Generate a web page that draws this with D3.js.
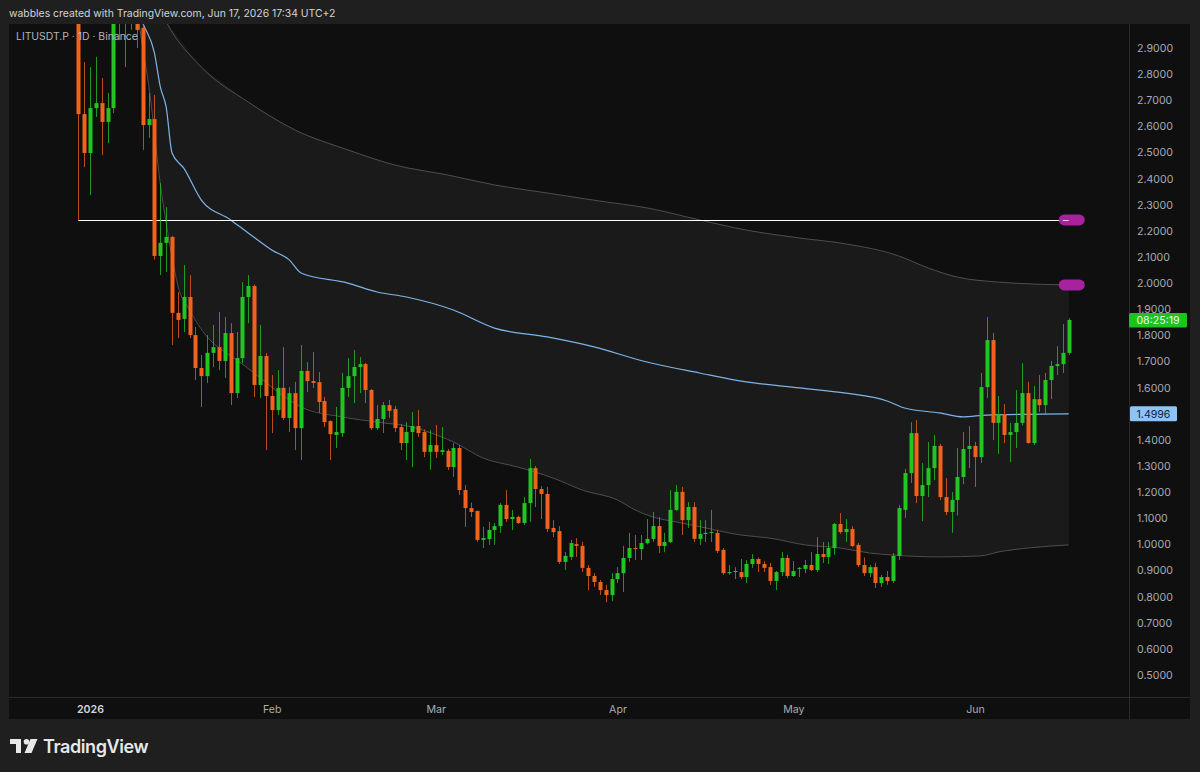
<!DOCTYPE html>
<html>
<head>
<meta charset="utf-8">
<script src="https://cdn.jsdelivr.net/npm/d3@7"></script>
<style>
html, body { margin: 0; padding: 0; background: #1f1f1f; }
svg { display: block; font-family: Inter, "Noto Sans", sans-serif; }
</style>
</head>
<body>
<svg id="chart" width="1200" height="772"></svg>
<script>
// LITUSDT.P daily candles, first candle on Dec 30 2025
var firstDay = "2025-12-30";

var opens = [
  3.20, 2.647,
  2.498, 2.670, 2.689, 2.617, 2.670, 3.02, 3.15, 3.25, 3.08, 2.977, 2.605, 2.628, 2.104, 2.154, 2.177, 1.886, 1.863, 1.947, 1.801, 1.675, 1.644, 1.733, 1.755, 1.702, 1.809, 1.579, 1.713, 1.947, 1.989, 1.610, 1.721,
  1.568, 1.514, 1.599, 1.484, 1.579, 1.445, 1.664, 1.625, 1.621, 1.549, 1.472, 1.419, 1.426, 1.599, 1.644, 1.679, 1.690, 1.591, 1.445, 1.480, 1.533, 1.518, 1.449, 1.388, 1.430, 1.453, 1.430, 1.354,
  1.380, 1.354, 1.358, 1.296, 1.369, 1.208, 1.139, 1.128, 1.017, 1.020, 1.055, 1.070, 1.151, 1.097, 1.105, 1.082, 1.158, 1.292, 1.212, 1.193, 1.063, 1.051, 0.933, 0.952, 1.001, 0.994, 0.910, 0.879, 0.856, 0.825, 0.806,
  0.867, 0.890, 0.948, 0.986, 0.982, 1.005, 1.021, 1.070, 0.994, 1.009, 1.132, 1.201, 1.093, 1.143, 1.021, 1.040, 1.044, 1.044, 0.979, 0.890, 0.898, 0.894, 0.875, 0.925, 0.944, 0.925, 0.913, 0.860, 0.894, 0.948,
  0.879, 0.906, 0.906, 0.921, 0.902, 0.963, 0.952, 0.986, 1.078, 1.047, 1.059, 0.998, 0.921, 0.890, 0.913, 0.852, 0.875, 0.860, 0.956, 1.132, 1.273, 1.426, 1.185, 1.227, 1.292, 1.377, 1.181, 1.124, 1.170, 1.258, 1.365,
  1.377, 1.334, 1.602, 1.782, 1.465, 1.499, 1.419, 1.430, 1.465, 1.579, 1.388, 1.556, 1.533, 1.629, 1.683, 1.690, 1.733
];
var highs = [
  3.40, 2.846,
  2.827, 2.866, 2.785, 2.728, 3.10, 3.30, 3.40, 3.35, 3.12, 3.00, 2.728, 2.720, 2.383, 2.291, 2.180, 1.966, 2.069, 2.031, 1.832, 1.725, 1.801, 1.840, 1.889, 1.870, 1.847, 1.813, 2.004, 2.031, 1.995, 1.840, 1.733,
  1.648, 1.667, 1.755, 1.602, 1.622, 1.763, 1.698, 1.736, 1.660, 1.564, 1.475, 1.526, 1.656, 1.713, 1.744, 1.717, 1.695, 1.595, 1.533, 1.545, 1.553, 1.530, 1.460, 1.468, 1.507, 1.514, 1.440, 1.438,
  1.457, 1.449, 1.365, 1.388, 1.380, 1.227, 1.160, 1.130, 1.067, 1.086, 1.082, 1.158, 1.208, 1.132, 1.110, 1.181, 1.327, 1.300, 1.223, 1.220, 1.093, 1.070, 0.971, 1.017, 1.024, 1.010, 0.921, 0.890, 0.864, 0.845, 0.890,
  0.913, 0.994, 1.044, 1.036, 1.036, 1.097, 1.124, 1.105, 1.044, 1.208, 1.227, 1.220, 1.162, 1.162, 1.093, 1.093, 1.132, 1.055, 0.986, 0.921, 0.913, 0.944, 0.940, 0.963, 0.950, 0.936, 0.929, 0.898, 0.971, 0.960,
  0.936, 0.913, 0.940, 0.971, 1.028, 1.009, 1.009, 1.082, 1.120, 1.097, 1.070, 1.005, 0.950, 0.921, 0.929, 0.883, 0.898, 0.967, 1.150, 1.289, 1.468, 1.476, 1.311, 1.392, 1.419, 1.385, 1.254, 1.200, 1.369, 1.430, 1.453,
  1.392, 1.656, 1.870, 1.809, 1.568, 1.537, 1.465, 1.591, 1.694, 1.622, 1.606, 1.648, 1.656, 1.702, 1.759, 1.844, 1.866
];
var lows = [
  2.242, 2.444,
  2.337, 2.636, 2.490, 2.536, 2.651, 2.93, 2.827, 2.97, 2.90, 2.510, 2.556, 2.090, 2.031, 2.043, 1.763, 1.790, 1.813, 1.790, 1.629, 1.526, 1.618, 1.679, 1.667, 1.637, 1.533, 1.560, 1.694, 1.847, 1.564, 1.560, 1.361,
  1.426, 1.495, 1.476, 1.430, 1.361, 1.323, 1.583, 1.599, 1.503, 1.449, 1.323, 1.369, 1.411, 1.564, 1.541, 1.579, 1.541, 1.438, 1.438, 1.426, 1.484, 1.430, 1.361, 1.323, 1.296, 1.411, 1.334, 1.285,
  1.331, 1.342, 1.285, 1.258, 1.189, 1.067, 1.105, 1.010, 0.986, 0.998, 0.998, 1.044, 1.086, 1.055, 1.078, 1.074, 1.086, 1.143, 1.097, 1.047, 1.028, 0.925, 0.902, 0.940, 0.952, 0.894, 0.825, 0.837, 0.806, 0.779, 0.783,
  0.852, 0.818, 0.933, 0.940, 0.940, 1.000, 1.010, 0.967, 0.970, 1.005, 1.128, 1.036, 1.063, 1.009, 0.998, 1.009, 1.009, 0.967, 0.883, 0.883, 0.867, 0.867, 0.852, 0.910, 0.894, 0.894, 0.845, 0.825, 0.879, 0.871,
  0.875, 0.875, 0.890, 0.898, 0.894, 0.929, 0.925, 0.960, 1.040, 1.009, 0.990, 0.913, 0.879, 0.875, 0.833, 0.837, 0.845, 0.852, 0.940, 1.101, 1.235, 1.158, 1.089, 1.181, 1.246, 1.170, 1.112, 1.044, 1.110, 1.230, 1.292,
  1.220, 1.311, 1.560, 1.400, 1.346, 1.388, 1.315, 1.369, 1.455, 1.385, 1.380, 1.507, 1.495, 1.556, 1.648, 1.656, 1.725
];
var closes = [
  2.647, 2.498,
  2.670, 2.689, 2.617, 2.670, 3.02, 3.15, 3.25, 3.08, 2.969, 2.605, 2.628, 2.104, 2.154, 2.177, 1.886, 1.859, 1.947, 1.801, 1.675, 1.644, 1.733, 1.755, 1.702, 1.809, 1.579, 1.713, 1.947, 1.989, 1.610, 1.721, 1.568,
  1.514, 1.599, 1.484, 1.579, 1.445, 1.664, 1.625, 1.618, 1.545, 1.468, 1.422, 1.430, 1.599, 1.644, 1.679, 1.690, 1.591, 1.445, 1.480, 1.533, 1.511, 1.445, 1.388, 1.430, 1.453, 1.426, 1.354, 1.380,
  1.354, 1.361, 1.296, 1.369, 1.208, 1.139, 1.124, 1.017, 1.024, 1.055, 1.070, 1.151, 1.097, 1.105, 1.082, 1.158, 1.292, 1.212, 1.193, 1.059, 1.047, 0.933, 0.956, 1.005, 0.994, 0.910, 0.879, 0.856, 0.825, 0.806, 0.867,
  0.890, 0.948, 0.986, 0.982, 1.005, 1.021, 1.070, 0.994, 1.009, 1.132, 1.201, 1.093, 1.143, 1.021, 1.040, 1.044, 1.048, 0.975, 0.890, 0.894, 0.894, 0.875, 0.925, 0.944, 0.925, 0.910, 0.860, 0.894, 0.948, 0.879,
  0.898, 0.910, 0.921, 0.902, 0.963, 0.952, 0.986, 1.078, 1.047, 1.059, 0.994, 0.921, 0.890, 0.913, 0.852, 0.875, 0.860, 0.956, 1.139, 1.273, 1.426, 1.185, 1.227, 1.292, 1.377, 1.181, 1.124, 1.170, 1.258, 1.365, 1.377,
  1.334, 1.602, 1.782, 1.465, 1.499, 1.419, 1.430, 1.465, 1.579, 1.388, 1.556, 1.533, 1.629, 1.683, 1.690, 1.733, 1.859
];

// envelope bands (read at sample dates)
var upperDates = ["2026-01-08", "2026-01-11", "2026-01-14", "2026-01-20", "2026-01-28", "2026-02-05", "2026-02-14", "2026-02-22", "2026-03-03", "2026-03-11", "2026-03-20", "2026-03-29", "2026-04-06", "2026-04-15", "2026-04-23", "2026-05-02", "2026-05-10", "2026-05-19", "2026-05-24", "2026-05-29", "2026-06-05", "2026-06-17"];
var upperValues = [3.35, 3.15, 3.00, 2.827, 2.693, 2.586, 2.510, 2.452, 2.414, 2.376, 2.345, 2.314, 2.288, 2.242, 2.203, 2.173, 2.150, 2.104, 2.058, 2.023, 2.004, 1.993];

var midDates = ["2026-01-07", "2026-01-10", "2026-01-12", "2026-01-13", "2026-01-14", "2026-01-15", "2026-01-17", "2026-01-20", "2026-01-25", "2026-01-28", "2026-02-01", "2026-02-04", "2026-02-06", "2026-02-14", "2026-02-19", "2026-02-24", "2026-03-04", "2026-03-11", "2026-03-20", "2026-03-28", "2026-04-06", "2026-04-15", "2026-04-23", "2026-05-02", "2026-05-10", "2026-05-17", "2026-05-20", "2026-05-26", "2026-05-30", "2026-06-03", "2026-06-17"];
var midValues = [3.20, 2.996, 2.88, 2.751, 2.674, 2.498, 2.44, 2.318, 2.242, 2.192, 2.127, 2.089, 2.039, 2.000, 1.966, 1.947, 1.897, 1.828, 1.794, 1.756, 1.698, 1.656, 1.622, 1.599, 1.579, 1.549, 1.522, 1.503, 1.488, 1.495, 1.4996];

var lowerDates = ["2026-01-09", "2026-01-10", "2026-01-11", "2026-01-13", "2026-01-15", "2026-01-16", "2026-01-18", "2026-01-21", "2026-01-23", "2026-01-26", "2026-01-29", "2026-02-01", "2026-02-06", "2026-02-13", "2026-02-19", "2026-02-25", "2026-03-02", "2026-03-04", "2026-03-09", "2026-03-15", "2026-03-21", "2026-03-26", "2026-04-01", "2026-04-04", "2026-04-07", "2026-04-11", "2026-04-16", "2026-04-22", "2026-04-27", "2026-05-03", "2026-05-09", "2026-05-14", "2026-05-18", "2026-05-26", "2026-06-02", "2026-06-05", "2026-06-10", "2026-06-17"];
var lowerValues = [3.05, 2.90, 2.76, 2.38, 2.10, 1.99, 1.897, 1.794, 1.752, 1.706, 1.656, 1.602, 1.526, 1.488, 1.468, 1.449, 1.411, 1.392, 1.331, 1.296, 1.254, 1.208, 1.170, 1.132, 1.105, 1.086, 1.063, 1.036, 1.024, 0.998, 0.986, 0.967, 0.959, 0.952, 0.956, 0.971, 0.986, 0.998];

var lineLevel = 2.242;
var alertLevels = [2.242, 1.993];
var priceTicks = [0.5, 0.6, 0.7, 0.8, 0.9, 1.0, 1.1, 1.2, 1.3, 1.4, 1.5, 1.6, 1.7, 1.8, 1.9, 2.0, 2.1, 2.2, 2.3, 2.4, 2.5, 2.6, 2.7, 2.8, 2.9];
var timeTicks = ["2026-01-01", "2026-02-01", "2026-03-01", "2026-04-01", "2026-05-01", "2026-06-01"];
var timeTickLabels = ["2026", "Feb", "Mar", "Apr", "May", "Jun"];
var countdown = "08:25:19";

var parse = d3.utcParse("%Y-%m-%d");
var start = parse(firstDay);
var candles = opens.map((o, i) => ({
  date: d3.utcDay.offset(start, i), o: o, h: highs[i], l: lows[i], c: closes[i]
}));
var pts = (ds, vs) => ds.map((d, i) => ({ date: parse(d), v: vs[i] }));
var upper = pts(upperDates, upperValues),
    mid = pts(midDates, midValues),
    lower = pts(lowerDates, lowerValues);

var panel = {left: 9, right: 1190, top: 24, bottom: 719},
    plotRight = 1129, plotBottom = 697;

var x = d3.scaleUtc()
    .domain([parse("2026-01-01"), parse("2026-06-01")])
    .range([90, 975]);
var y = d3.scaleLinear()
    .domain([0.5, 2.9])
    .range([675, 48]);

var upColor = "#23c523", downColor = "#f2621c";

var svg = d3.select("#chart");

// header
svg.append("text")
    .attr("x", 9).attr("y", 17)
    .attr("fill", "#d1d4dc").attr("font-size", 10.4)
    .text("wabbles created with TradingView.com, Jun 17, 2026 17:34 UTC+2");

svg.append("rect")
    .attr("x", panel.left).attr("y", panel.top)
    .attr("width", panel.right - panel.left).attr("height", panel.bottom - panel.top)
    .attr("fill", "#0f0f0f");

svg.append("clipPath").attr("id", "plot")
  .append("rect")
    .attr("x", panel.left).attr("y", panel.top)
    .attr("width", plotRight - panel.left).attr("height", plotBottom - panel.top);

var plot = svg.append("g").attr("clip-path", "url(#plot)");

// band fill
var bandPoly = upper.concat(lower.slice().reverse());
plot.append("path")
    .attr("d", d3.line().x(d => x(d.date)).y(d => y(d.v)).curve(d3.curveLinearClosed)(bandPoly))
    .attr("fill", "#1a1a1a");

var bandLine = d3.line().x(d => x(d.date)).y(d => y(d.v)).curve(d3.curveMonotoneX);
plot.append("path").attr("d", bandLine(upper))
    .attr("fill", "none").attr("stroke", "#4e4e4e").attr("stroke-width", 1);
plot.append("path").attr("d", bandLine(lower))
    .attr("fill", "none").attr("stroke", "#4e4e4e").attr("stroke-width", 1);
plot.append("path").attr("d", bandLine(mid))
    .attr("fill", "none").attr("stroke", "#7fb3e8").attr("stroke-width", 1.2);

// horizontal line at the first candle low
plot.append("line")
    .attr("x1", x(candles[0].date)).attr("x2", x(candles[candles.length - 1].date))
    .attr("y1", Math.round(y(lineLevel)) + 0.5).attr("y2", Math.round(y(lineLevel)) + 0.5)
    .attr("stroke", "#ffffff").attr("stroke-width", 1);

// candles
var cg = plot.selectAll(".candle").data(candles).enter().append("g").attr("class", "candle");
cg.append("line")
    .attr("x1", d => Math.round(x(d.date)) + 0.5).attr("x2", d => Math.round(x(d.date)) + 0.5)
    .attr("y1", d => y(d.h)).attr("y2", d => y(d.l))
    .attr("stroke", d => d.c >= d.o ? upColor : downColor)
    .attr("stroke-opacity", 0.75).attr("stroke-width", 1);
cg.append("rect")
    .attr("x", d => Math.round(x(d.date)) - 1.5)
    .attr("width", 4)
    .attr("y", d => y(Math.max(d.o, d.c)))
    .attr("height", d => Math.max(1, Math.abs(y(d.o) - y(d.c))))
    .attr("fill", d => d.c >= d.o ? upColor : downColor);

// alert markers
var lastX = x(candles[candles.length - 1].date);
svg.selectAll(".alert").data(alertLevels).enter().append("rect")
    .attr("class", "alert")
    .attr("x", lastX - 10).attr("width", 26)
    .attr("y", d => y(d) - 5.5).attr("height", 11)
    .attr("rx", 5.5)
    .attr("fill", "#a8229f");
svg.append("line")
    .attr("x1", lastX - 6).attr("x2", lastX)
    .attr("y1", Math.round(y(lineLevel)) + 0.5).attr("y2", Math.round(y(lineLevel)) + 0.5)
    .attr("stroke", "#e9c6e6").attr("stroke-width", 1);

// legend
svg.append("text")
    .attr("x", 16).attr("y", 40)
    .attr("fill", "#b2b5be").attr("font-size", 10.4)
    .text("LITUSDT.P · 1D · Binance");

// axes separators
svg.append("line")
    .attr("x1", plotRight + 0.5).attr("x2", plotRight + 0.5)
    .attr("y1", panel.top).attr("y2", panel.bottom)
    .attr("stroke", "#2a2a2a");
svg.append("line")
    .attr("x1", panel.left).attr("x2", panel.right)
    .attr("y1", plotBottom + 0.5).attr("y2", plotBottom + 0.5)
    .attr("stroke", "#2a2a2a");

// price axis
var yAxis = svg.append("g")
    .attr("transform", "translate(" + plotRight + ",0)")
    .call(d3.axisRight(y).tickValues(priceTicks).tickFormat(d3.format(".4f")).tickSize(0).tickPadding(8));
yAxis.select(".domain").remove();
yAxis.selectAll("text").attr("fill", "#a9acb5").attr("font-size", 10.6).attr("font-family", "Inter, sans-serif");

// time axis
var tickDates = timeTicks.map(parse);
var xAxis = svg.append("g")
    .attr("transform", "translate(0," + plotBottom + ")")
    .call(d3.axisBottom(x).tickValues(tickDates).tickFormat((d, i) => timeTickLabels[i]).tickSize(0).tickPadding(8));
xAxis.select(".domain").remove();
xAxis.selectAll("text")
    .attr("fill", (d, i) => i === 0 ? "#d1d4dc" : "#a9acb5")
    .attr("font-weight", (d, i) => i === 0 ? 600 : 400)
    .attr("font-size", 10.6).attr("font-family", "Inter, sans-serif");

// last price countdown label
var lastClose = closes[closes.length - 1];
svg.append("rect")
    .attr("x", plotRight).attr("y", y(lastClose) - 7)
    .attr("width", 58).attr("height", 14.5).attr("rx", 1.5)
    .attr("fill", "#1fc21f");
svg.append("text")
    .attr("x", plotRight + 29).attr("y", y(lastClose) + 4)
    .attr("text-anchor", "middle")
    .attr("fill", "#eaffea").attr("font-size", 10.6)
    .text(countdown);

// mid band value label
var midLast = midValues[midValues.length - 1];
svg.append("rect")
    .attr("x", plotRight + 1).attr("y", y(midLast) - 7.5)
    .attr("width", 47).attr("height", 15).attr("rx", 1.5)
    .attr("fill", "#8ec3f6");
svg.append("text")
    .attr("x", plotRight + 24.5).attr("y", y(midLast) + 4)
    .attr("text-anchor", "middle")
    .attr("fill", "#0b2540").attr("font-size", 10.6)
    .text(d3.format(".4f")(midLast));

// TradingView wordmark
var logo = svg.append("g").attr("fill", "#e8e8e8");
logo.append("path").attr("d", "M10,739 h11 v14 h-5 v-9 h-6 z");
logo.append("circle").attr("cx", 26.5).attr("cy", 741.8).attr("r", 2.8);
logo.append("path").attr("d", "M30.5,739 h7 l-6,14 h-7 z");
svg.append("text")
    .attr("x", 43).attr("y", 753)
    .attr("fill", "#e8e8e8").attr("font-size", 18).attr("font-weight", 600)
    .attr("letter-spacing", -0.4)
    .text("TradingView");
</script>
</body>
</html>
